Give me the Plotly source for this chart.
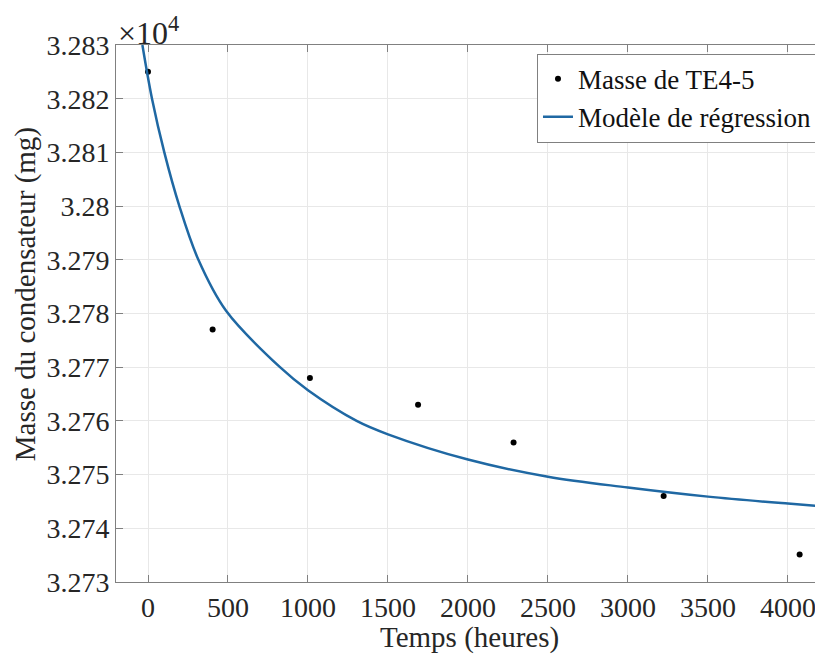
import plotly.graph_objects as go

# Measured data points (hours, mg)
time_h = [0, 404, 1012, 1688, 2285, 3223, 4073]
mass_mg = [32825.0, 32777.0, 32768.0, 32763.0, 32756.0, 32746.0, 32735.1]

# Regression curve (hours, mg)
curve_t = [-35, 25, 102, 196, 315, 488, 825, 1000, 1304, 1500, 2000, 2500, 3000, 3500, 4000, 4220]
curve_m = [32830.0, 32820.0, 32810.0, 32800.0, 32790.0, 32780.5, 32770.0, 32765.7,
           32760.0, 32757.5, 32752.8, 32749.6, 32747.6, 32745.9, 32744.6, 32744.1]

x_ticks = [0, 500, 1000, 1500, 2000, 2500, 3000, 3500, 4000]
y_ticks = [32730, 32740, 32750, 32760, 32770, 32780, 32790, 32800, 32810, 32820, 32830]
y_tick_labels = ["3.273", "3.274", "3.275", "3.276", "3.277", "3.278", "3.279", "3.28", "3.281", "3.282", "3.283"]

FONT = "Liberation Serif, Times New Roman, serif"
AX = "#808080"
GRID = "#e8e8e8"
TXT = "#262626"

fig = go.Figure()
fig.add_trace(go.Scatter(
    x=time_h, y=mass_mg, mode="markers", name="Masse de TE4-5",
    marker=dict(color="black", size=6),
))
fig.add_trace(go.Scatter(
    x=curve_t, y=curve_m, mode="lines", name="Modèle de régression",
    line=dict(color="#1f68a3", width=2.5, shape="spline", smoothing=1.0),
))

fig.update_layout(
    width=815, height=649,
    margin=dict(l=108, r=0, t=37, b=75),
    paper_bgcolor="white", plot_bgcolor="white",
    font=dict(family=FONT, size=28, color=TXT),
    showlegend=True,
    legend=dict(
        x=0.9915, y=0.984, xanchor="right", yanchor="top",
        bgcolor="white", bordercolor=AX, borderwidth=1,
        font=dict(family=FONT, size=27, color="#111"),
        tracegroupgap=0, itemwidth=30,
    ),
    xaxis=dict(
        range=[-200, 4219], tickvals=x_ticks, ticks="inside", ticklen=7,
        tickcolor=AX, showline=True, linecolor=AX, linewidth=1, mirror="ticks",
        showgrid=True, gridcolor=GRID, gridwidth=1, zeroline=False,
        tickfont=dict(family=FONT, size=28, color=TXT),
    ),
    yaxis=dict(
        range=[32730, 32830], tickvals=y_ticks, ticktext=y_tick_labels, ticks="inside", ticklen=7,
        tickcolor=AX, showline=True, linecolor=AX, linewidth=1, mirror=False,
        showgrid=True, gridcolor=GRID, gridwidth=1, zeroline=False,
        tickfont=dict(family=FONT, size=28, color=TXT),
    ),
    annotations=[
        dict(text="Temps (heures)", xref="paper", yref="paper",
             x=0.5, y=-0.104, xanchor="center", yanchor="middle",
             showarrow=False, font=dict(family=FONT, size=29, color=TXT)),
        dict(text="Masse du condensateur (mg)", xref="paper", yref="paper",
             x=-0.128, y=0.535, xanchor="center", yanchor="middle", textangle=-90,
             showarrow=False, font=dict(family=FONT, size=29, color=TXT)),
        dict(text="×10<sup>4</sup>", xref="paper", yref="paper",
             x=0.0, y=1.0, xanchor="left", yanchor="bottom", yshift=-8,
             showarrow=False, font=dict(family=FONT, size=32, color=TXT)),
    ],
)

fig.write_html("out.html")
